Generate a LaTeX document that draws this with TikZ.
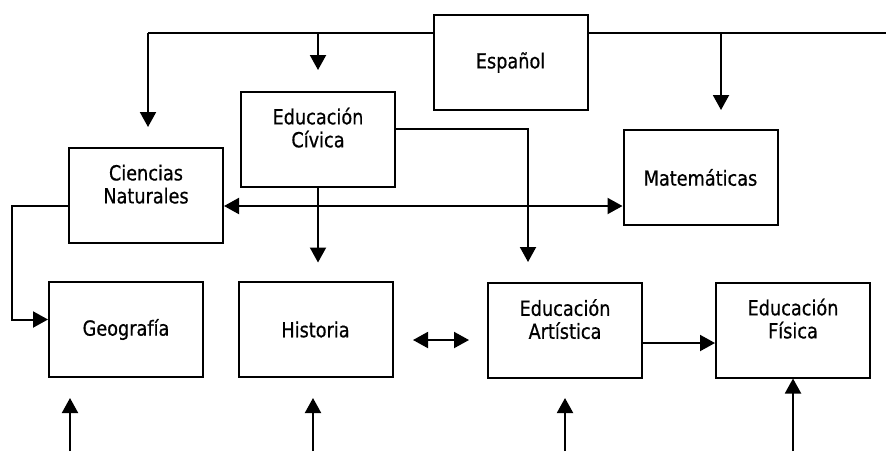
\documentclass[tikz,border=0pt]{standalone}
\usepackage{fontspec}
\setmainfont{DejaVu Sans}[FakeStretch=0.85, FakeBold=0.6]
\usetikzlibrary{arrows.meta}

\begin{document}
\begin{tikzpicture}[x=0.5pt, y=-0.5pt, line width=1pt,
	materia/.style={rectangle, draw=black, minimum width=77pt, minimum height=47.5pt, align=center, font=\fontsize{10.4}{11.5}\selectfont},
	flecha/.style={-{Triangle[length=7.5pt, width=8pt]}},
	doble/.style={{Triangle[length=7.5pt, width=8pt]}-{Triangle[length=7.5pt, width=8pt]}}]
		\useasboundingbox (0,0) rectangle (886,451);

		\node (esp) [materia] at (510.5,62.5) {Español};
		\node (civ) [materia] at (318,139) {Educación\\Cívica\\\mbox{}};
		\node (cie) [materia] at (146,195.5) {Ciencias\\Naturales\\\mbox{}};
		\node (mat) [materia] at (700.5,177.5) {Matemáticas};
		\node (geo) [materia] at (126,329.5) {Geografía};
		\node (his) [materia] at (315.5,329.5) {Historia};
		\node (art) [materia] at (565,330.5) {Educación\\Artística\\\mbox{}};
		\node (fis) [materia] at (793,330) {Educación\\Física\\\mbox{}};

		% linea de arriba
		\coordinate (bi) at (148,33);
		\coordinate (bd) at (886,33);
		\coordinate (bm) at (721,33);
		\draw (esp.west |- bi) -- (bi);
		\draw[flecha] (bi) -- ++(0,94);
		\draw[flecha] (bi -| civ) -- ++(0,37);
		\draw (esp.east |- bd) -- (bd);
		\draw[flecha] (bm) -- ++(0,77);

		\coordinate (ca) at (528,129);
		\draw[flecha] (civ.east |- ca) -- (ca) -- ++(0,133);
		\draw[flecha] (civ.south) -- ++(0,75);

		\coordinate (cg) at (12,206);
		\draw[flecha] (cie.west |- cg) -- (cg) |- ([yshift=5pt]geo.west);
		\draw[doble] (cie.east |- cg) -- (mat.west |- cg);

		\coordinate (ha) at (413,340);
		\coordinate (hb) at (469,340);
		\draw[doble] (ha) -- (hb);
		\draw[flecha] ([yshift=-6.25pt]art.east) -- ([yshift=-6.25pt]art.east -| fis.west);

		% flechas de abajo
		\foreach \x in {70,313,565}
			\draw[flecha] (\x,451) -- ++(0,-53);
		\draw[flecha] (fis.south |- 0,451) -- (fis.south);

	\end{tikzpicture}
\end{document}
